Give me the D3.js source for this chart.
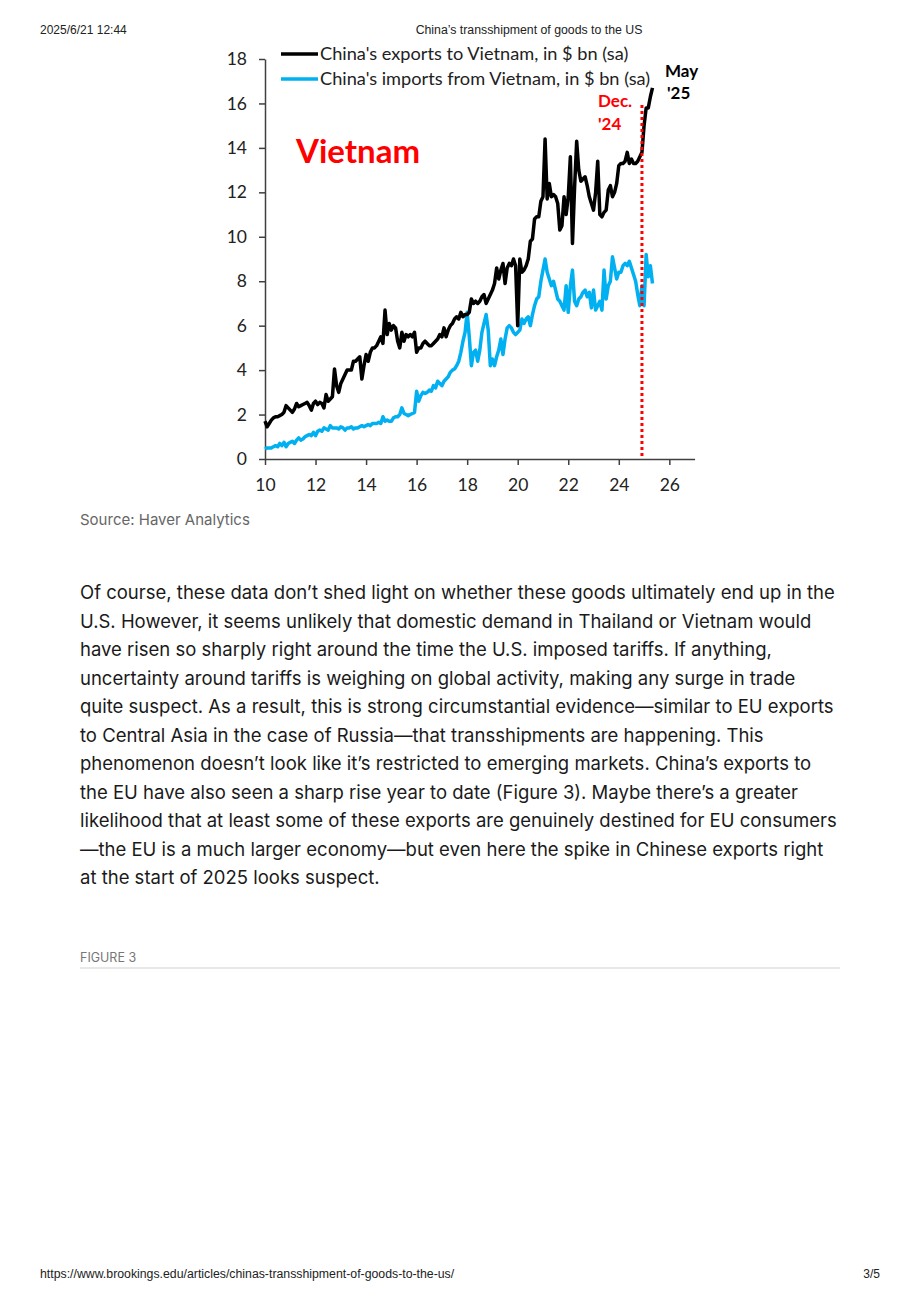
<!DOCTYPE html>
<html>
<head>
<meta charset="utf-8">
<script src="https://cdn.jsdelivr.net/npm/d3@7"></script>
<style>
  html, body { margin: 0; padding: 0; background: #fff; }
  svg { display: block; }
</style>
</head>
<body>
<svg id="page" width="920" height="1302"></svg>
<script>
// ---- Data (monthly, Jan 2010 – May 2025, $ bn, sa) ----
const startYear = 2010;
const exportsVN = [
  1.7, 1.45, 1.6, 1.75, 1.85, 1.9, 1.9, 1.95, 2.0, 2.1, 2.4, 2.3,
  2.2, 2.1, 2.25, 2.5, 2.35, 2.4, 2.45, 2.5, 2.55, 2.4, 2.2, 2.5,
  2.6, 2.45, 2.55, 2.5, 2.3, 2.9, 2.6, 2.7, 2.8, 4.05, 3.3, 3.0,
  3.4, 3.6, 3.8, 4.0, 4.0, 4.0, 4.4, 4.4, 4.5, 4.6, 3.6, 4.2,
  4.7, 4.4, 4.8, 5.0, 5.0, 5.1, 5.3, 5.5, 5.2, 6.7, 5.6, 6.1,
  5.8, 6.0, 5.9, 5.3, 5.0, 5.7, 5.3, 5.6, 5.5, 5.6, 5.5, 5.7,
  4.8, 5.0, 5.0, 5.2, 5.3, 5.2, 5.1, 5.1, 5.2, 5.3, 5.4, 5.6,
  5.5, 5.9, 5.5, 5.8, 6.0, 6.1, 6.3, 6.4, 6.3, 6.6, 6.4, 6.5,
  6.5, 6.6, 7.2, 7.0, 7.1, 7.0, 7.1, 7.3, 7.4, 7.0, 7.2, 7.4,
  7.6, 7.9, 8.6, 8.1, 8.5, 8.8, 7.9, 8.6, 8.8, 8.7, 9.0, 8.7,
  6.0, 9.0, 8.4, 8.5, 8.7, 9.0, 9.8, 9.9, 10.8, 10.9, 10.9, 11.6,
  11.8, 14.4, 11.7, 12.4, 11.8, 11.9, 11.8, 11.5, 10.3, 10.5, 11.8, 11.0,
  11.8, 13.6, 9.7, 12.2, 14.3, 13.0, 12.5, 12.6, 12.7, 12.3, 11.8, 11.5,
  11.2, 12.0, 13.4, 11.0, 10.9, 11.1, 11.2, 12.1, 12.3, 11.8, 12.0, 12.4,
  13.2, 13.3, 13.3, 13.4, 13.8, 13.3, 13.5, 13.3, 13.3, 13.4, 13.6, 13.8,
  15.0, 15.8, 15.8, 16.3, 16.7
];
const importsVN = [
  0.45, 0.5, 0.5, 0.5, 0.55, 0.6, 0.55, 0.7, 0.6, 0.75, 0.55, 0.7,
  0.75, 0.8, 0.7, 0.85, 0.95, 0.85, 0.9, 1.0, 1.05, 1.1, 1.05, 1.2,
  1.05, 1.25, 1.3, 1.25, 1.4, 1.35, 1.3, 1.5, 1.4, 1.4, 1.4, 1.35,
  1.45, 1.4, 1.3, 1.4, 1.4, 1.45, 1.35, 1.4, 1.4, 1.45, 1.5, 1.45,
  1.5, 1.55, 1.5, 1.6, 1.6, 1.6, 1.65, 1.6, 1.9, 1.7, 1.75, 1.7,
  1.7, 1.85, 1.9, 1.9, 2.0, 2.3, 2.05, 2.0, 1.95, 2.0, 2.05, 2.1,
  3.05, 2.6, 2.85, 3.0, 2.95, 3.0, 3.1, 3.05, 3.3, 3.2, 3.5, 3.4,
  3.3, 3.5, 3.6, 3.7, 3.9, 4.0, 4.05, 4.2, 4.4, 4.8, 5.3, 5.7,
  6.6, 5.5, 4.2, 4.8, 4.9, 4.4, 4.9, 5.7, 6.1, 6.5, 5.8, 4.2,
  4.5, 4.2, 4.6, 4.9, 5.4, 4.7, 5.4, 5.9, 6.0, 5.9, 5.7, 5.6,
  5.7, 5.8, 6.3, 6.1, 6.3, 6.4, 6.0, 6.5, 6.9, 7.2, 7.3, 8.0,
  8.5, 9.0, 8.4, 8.1, 7.8, 8.0, 7.6, 7.2, 7.1, 6.9, 6.7, 7.8,
  6.6, 7.8, 8.5, 7.1, 6.9, 7.2, 7.3, 7.5, 7.6, 7.3, 7.5, 6.8,
  7.6, 6.7, 6.9, 7.1, 6.7, 8.5, 7.2, 7.8, 8.0, 9.1, 8.6, 8.1,
  8.4, 8.4, 8.7, 8.8, 8.7, 8.9, 8.6, 8.3, 8.0, 7.4, 6.9, 7.8,
  6.9, 9.2, 8.2, 8.7, 7.9
];
const xTicks = [10, 12, 14, 16, 18, 20, 22, 24, 26];
const yTicks = [0, 2, 4, 6, 8, 10, 12, 14, 16, 18];
const seriesNames = ["China's exports to Vietnam, in $ bn (sa)", "China's imports from Vietnam, in $ bn (sa)"];
const markerYear = 24 + 11 / 12; // Dec '24

const paragraph = [
  "Of course, these data don\u2019t shed light on whether these goods ultimately end up in the",
  "U.S. However, it seems unlikely that domestic demand in Thailand or Vietnam would",
  "have risen so sharply right around the time the U.S. imposed tariffs. If anything,",
  "uncertainty around tariffs is weighing on global activity, making any surge in trade",
  "quite suspect. As a result, this is strong circumstantial evidence\u2014similar to EU exports",
  "to Central Asia in the case of Russia\u2014that transshipments are happening. This",
  "phenomenon doesn\u2019t look like it\u2019s restricted to emerging markets. China\u2019s exports to",
  "the EU have also seen a sharp rise year to date (Figure 3). Maybe there\u2019s a greater",
  "likelihood that at least some of these exports are genuinely destined for EU consumers",
  "\u2014the EU is a much larger economy\u2014but even here the spike in Chinese exports right",
  "at the start of 2025 looks suspect."
];

// ---- Page ----
const svg = d3.select("#page");
const pageFont = "'Liberation Sans', Arial, sans-serif";

svg.append("text").attr("x", 40).attr("y", 34).attr("font-family", pageFont)
  .attr("font-size", 12).attr("fill", "#222").text("2025/6/21 12:44");
svg.append("text").attr("x", 529).attr("y", 34).attr("text-anchor", "middle").attr("font-family", pageFont)
  .attr("font-size", 12.3).attr("fill", "#222").text("China\u2019s transshipment of goods to the US");
svg.append("text").attr("x", 40).attr("y", 1278).attr("font-family", pageFont)
  .attr("font-size", 12.3).attr("fill", "#222").text("https://www.brookings.edu/articles/chinas-transshipment-of-goods-to-the-us/");
svg.append("text").attr("x", 880).attr("y", 1278).attr("text-anchor", "end").attr("font-family", pageFont)
  .attr("font-size", 12).attr("fill", "#222").text("3/5");

// ---- Chart ----
const chartFont = "Lato, 'Open Sans', sans-serif";
const x = d3.scaleLinear().domain([10, 27]).range([265, 694.6]);
const y = d3.scaleLinear().domain([0, 18]).range([459, 59]);
const g = svg.append("g");

const xAxis = g.append("g").attr("transform", `translate(0,${y(0)})`)
  .call(d3.axisBottom(x).tickValues(xTicks).tickSize(6).tickPadding(14).tickSizeOuter(0).tickFormat(d3.format("d")));
const yAxis = g.append("g").attr("transform", `translate(${x(10)},0)`)
  .call(d3.axisLeft(y).tickValues(yTicks).tickSize(6).tickPadding(12).tickSizeOuter(0).tickFormat(d3.format("d")));
[xAxis, yAxis].forEach(a => {
  a.selectAll("path.domain").attr("stroke", "#404040").attr("stroke-width", 1.5);
  a.selectAll(".tick line").attr("stroke", "#404040").attr("stroke-width", 1.5);
  a.selectAll(".tick text").attr("font-family", chartFont).attr("font-size", 17.5).attr("fill", "#222");
});

const toPts = arr => arr.map((v, i) => ({ t: (startYear - 2000) + i / 12, v }));
const line = d3.line().x(d => x(d.t)).y(d => y(d.v));

g.append("path").datum(toPts(importsVN)).attr("d", line)
  .attr("fill", "none").attr("stroke", "#00b0f0").attr("stroke-width", 3.5).attr("stroke-linejoin", "round");
g.append("path").datum(toPts(exportsVN)).attr("d", line)
  .attr("fill", "none").attr("stroke", "#000").attr("stroke-width", 3.5).attr("stroke-linejoin", "round");

// Dec '24 marker
g.append("line").attr("x1", x(markerYear)).attr("x2", x(markerYear)).attr("y1", 105).attr("y2", y(0))
  .attr("stroke", "#ff0000").attr("stroke-width", 3).attr("stroke-dasharray", "3,3");

// Legend
const legendColors = ["#000", "#00b0f0"];
seriesNames.forEach((name, i) => {
  const ly = 54 + i * 25;
  g.append("line").attr("x1", 281).attr("x2", 318).attr("y1", ly).attr("y2", ly)
    .attr("stroke", legendColors[i]).attr("stroke-width", 3.5);
  g.append("text").attr("x", 320).attr("y", ly + 6).attr("font-family", chartFont)
    .attr("font-size", 18.2).attr("fill", "#222").text(name);
});

// Annotations
g.append("text").attr("x", 296).attr("y", 163).attr("font-family", chartFont).attr("font-weight", "bold")
  .attr("font-size", 33).attr("fill", "#ff0000").text("Vietnam");
g.append("text").attr("x", 598).attr("y", 107).attr("font-family", chartFont).attr("font-weight", "bold")
  .attr("font-size", 17).attr("fill", "#ff0000").text("Dec.");
g.append("text").attr("x", 598).attr("y", 130).attr("font-family", chartFont).attr("font-weight", "bold")
  .attr("font-size", 17).attr("fill", "#ff0000").text("'24");
g.append("text").attr("x", 665).attr("y", 77).attr("font-family", chartFont).attr("font-weight", "bold")
  .attr("font-size", 17).attr("fill", "#000").text("May");
g.append("text").attr("x", 667).attr("y", 99).attr("font-family", chartFont).attr("font-weight", "bold")
  .attr("font-size", 17).attr("fill", "#000").text("'25");

// Source
const bodyFont = "Inter, 'Noto Sans', sans-serif";
svg.append("text").attr("x", 80).attr("y", 525).attr("font-family", bodyFont)
  .attr("font-size", 15).attr("fill", "#666").text("Source: Haver Analytics");

// Paragraph
svg.append("g").selectAll("text").data(paragraph).join("text")
  .attr("x", 80).attr("y", (d, i) => 599 + i * 28.5)
  .attr("font-family", bodyFont).attr("font-size", 18.5).attr("fill", "#1a1a1a").text(d => d);

// Figure 3 label
svg.append("text").attr("x", 80).attr("y", 962).attr("font-family", bodyFont)
  .attr("font-size", 12.5).attr("fill", "#777").text("FIGURE 3");
svg.append("line").attr("x1", 80).attr("x2", 840).attr("y1", 968).attr("y2", 968)
  .attr("stroke", "#e8e8e8").attr("stroke-width", 2);
</script>
</body>
</html>
